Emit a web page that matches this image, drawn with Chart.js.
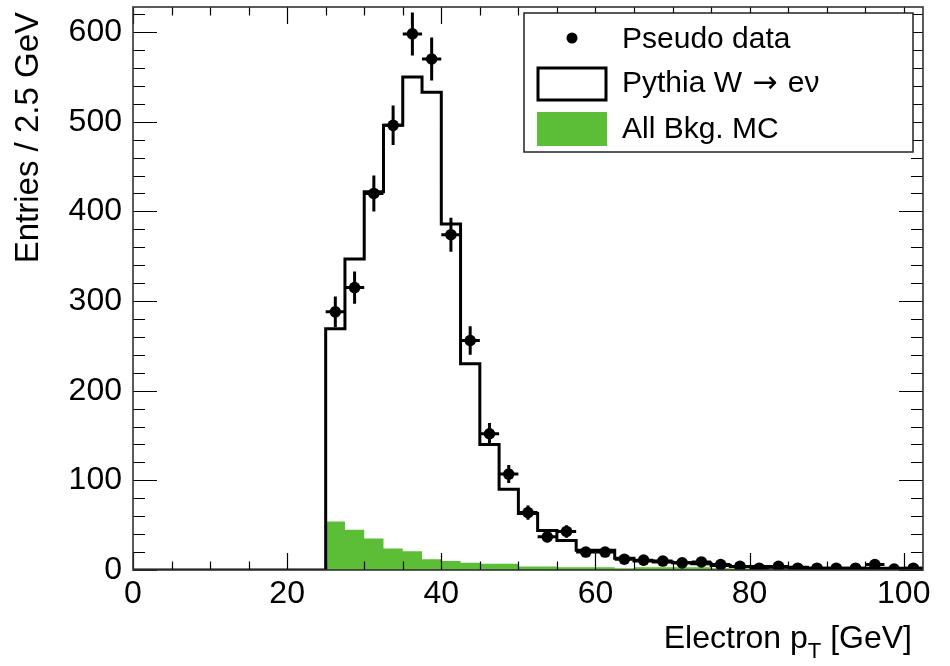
<!DOCTYPE html>
<html>
<head>
<meta charset="utf-8">
<script src="https://cdn.jsdelivr.net/npm/chart.js@4.4.1/dist/chart.umd.min.js"></script>
<style>
  html, body { margin: 0; padding: 0; background: #fff; }
</style>
</head>
<body>
<canvas id="chart" width="950" height="666"></canvas>
<script>
// electron pT histogram, 2.5 GeV bins
const binWidth = 2.5;
const binLow = [0, 2.5, 5, 7.5, 10, 12.5, 15, 17.5, 20, 22.5,
  25, 27.5, 30, 32.5, 35, 37.5, 40, 42.5, 45, 47.5,
  50, 52.5, 55, 57.5, 60, 62.5, 65, 67.5, 70, 72.5,
  75, 77.5, 80, 82.5, 85, 87.5, 90, 92.5, 95, 97.5, 100];

// background MC (green fill)
const bkgMC = [0, 0, 0, 0, 0, 0, 0, 0, 0, 0,
  54, 45, 35, 24, 21, 12, 10, 8, 7, 7,
  4, 4, 3, 3, 3, 2, 3, 3, 3, 3,
  2, 2, 2, 2, 2, 2, 2, 2, 2, 2, 2];

// W -> e nu stacked on top of the background (black outline)
const pythiaStack = [0, 0, 0, 0, 0, 0, 0, 0, 0, 0,
  269, 347, 422, 496, 550, 533, 386, 230, 140, 90,
  63, 44, 33, 22, 22, 13, 10, 9, 8, 7,
  5, 4, 4, 3, 3, 2, 2, 2, 2, 2, 2];

// pseudo data and its errors
const pseudoData = [null, null, null, null, null, null, null, null, null, null,
  288, 315, 420, 496, 598, 570, 374, 256, 152, 107,
  64, 37, 43, 20, 20, 12, 11, 10, 8, 9,
  6, 4, 2, 4, 2, 2, 2, 2, 6, 1, 2];
const dataErr = [null, null, null, null, null, null, null, null, null, null,
  17, 18, 20, 22, 24, 24, 19, 16, 12, 10,
  8, 6, 7, 4.5, 4.5, 3.5, 3.3, 3.2, 2.8, 3,
  2.4, 2, 1.4, 2, 1.4, 1.4, 1.4, 1.4, 2.4, 1, 1.4];

const xTickLabels = [0, 20, 40, 60, 80, 100];
const yTickLabels = [0, 100, 200, 300, 400, 500, 600];

const X_MAX = 102.5;
const Y_MAX = 628;
const FONT = "'Liberation Sans', Arial, Helvetica, sans-serif";
const GREEN = '#5cbd36';

const stepPoints = (vals) => {
  const pts = binLow.map((x, i) => ({ x: x, y: vals[i] }));
  pts.push({ x: binLow[binLow.length - 1] + binWidth, y: vals[vals.length - 1] });
  return pts;
};

const dataPoints = binLow
  .map((x, i) => pseudoData[i] == null ? null : { x: x + binWidth / 2, y: pseudoData[i], err: dataErr[i] })
  .filter(p => p);

// no extra room for half labels, the frame is placed by layout padding
const noPad = s => { s.paddingTop = 0; s.paddingBottom = 0; s.paddingLeft = 0; s.paddingRight = 0; };

const rootStyle = {
  id: 'rootStyle',
  beforeDatasetDraw(chart, args) {
    if (args.index !== 0) return;
    const { ctx, chartArea, scales: { x, y } } = chart;
    ctx.save();
    ctx.beginPath();
    ctx.rect(chartArea.left, chartArea.top, chartArea.right - chartArea.left, chartArea.bottom - chartArea.top);
    ctx.clip();
    ctx.strokeStyle = '#000';
    ctx.lineWidth = 3;
    dataPoints.forEach(p => {
      const px = x.getPixelForValue(p.x);
      const py = y.getPixelForValue(p.y);
      ctx.beginPath();
      ctx.moveTo(px, y.getPixelForValue(p.y - p.err));
      ctx.lineTo(px, y.getPixelForValue(p.y + p.err));
      ctx.moveTo(x.getPixelForValue(p.x - binWidth / 2), py);
      ctx.lineTo(x.getPixelForValue(p.x + binWidth / 2), py);
      ctx.stroke();
    });
    ctx.restore();
  },
  afterDraw(chart) {
    const { ctx, chartArea: a, scales: { x, y } } = chart;
    ctx.save();

    // inward ticks on all four sides
    ctx.strokeStyle = '#000';
    ctx.lineWidth = 1.2;
    ctx.beginPath();
    for (let v = 0; v <= X_MAX; v += 5) {
      const px = Math.round(x.getPixelForValue(v)) + 0.5;
      const len = v % 20 === 0 ? 17 : 8.5;
      ctx.moveTo(px, a.bottom); ctx.lineTo(px, a.bottom - len);
      ctx.moveTo(px, a.top); ctx.lineTo(px, a.top + len);
    }
    for (let v = 0; v <= Y_MAX; v += 20) {
      const py = Math.round(y.getPixelForValue(v)) + 0.5;
      const len = v % 100 === 0 ? 24 : 12;
      ctx.moveTo(a.left, py); ctx.lineTo(a.left + len, py);
      ctx.moveTo(a.right, py); ctx.lineTo(a.right - len, py);
    }
    ctx.stroke();

    // frame
    ctx.strokeStyle = '#333';
    ctx.lineWidth = 1.6;
    ctx.strokeRect(a.left, a.top, a.right - a.left, a.bottom - a.top);

    // legend
    const lx = 524, ly = 13, lw = 389, lh = 139;
    ctx.fillStyle = '#fff';
    ctx.fillRect(lx, ly, lw, lh);
    ctx.strokeStyle = '#222';
    ctx.lineWidth = 1.5;
    ctx.strokeRect(lx, ly, lw, lh);

    ctx.fillStyle = '#000';
    ctx.beginPath();
    ctx.arc(572, 38, 5.5, 0, Math.PI * 2);
    ctx.fill();

    ctx.fillStyle = '#fff';
    ctx.fillRect(538, 68, 68, 32);
    ctx.strokeStyle = '#000';
    ctx.lineWidth = 3;
    ctx.strokeRect(538, 68, 68, 32);

    ctx.fillStyle = GREEN;
    ctx.fillRect(537, 112, 70, 34);

    ctx.fillStyle = '#000';
    ctx.font = '30px ' + FONT;
    ctx.textAlign = 'left';
    ctx.textBaseline = 'alphabetic';
    ctx.fillText('Pseudo data', 622, 48);
    ctx.fillText('All Bkg. MC', 622, 138);

    // W -> e nu label, arrow taken from DejaVu for a longer glyph
    let tx = 622;
    ctx.fillText('Pythia W ', tx, 92);
    tx += ctx.measureText('Pythia W ').width + 2;
    ctx.font = "30px 'DejaVu Sans', sans-serif";
    ctx.fillText('\u2192', tx, 92);
    tx += ctx.measureText('\u2192').width + 2;
    ctx.font = '30px ' + FONT;
    ctx.fillText(' e\u03bd', tx, 92);

    // x axis title with subscript T
    const main = 'Electron p', sub = 'T', tail = ' [GeV]';
    ctx.font = '32px ' + FONT;
    const wMain = ctx.measureText(main).width;
    const wTail = ctx.measureText(tail).width;
    ctx.font = '22px ' + FONT;
    const wSub = ctx.measureText(sub).width;
    const xEnd = 912;
    const x0 = xEnd - wTail - wSub - wMain;
    ctx.font = '32px ' + FONT;
    ctx.fillText(main, x0, 648);
    ctx.fillText(tail, x0 + wMain + wSub, 648);
    ctx.font = '22px ' + FONT;
    ctx.fillText(sub, x0 + wMain, 658);

    // y axis title, aligned to the top
    ctx.translate(38, 12);
    ctx.rotate(-Math.PI / 2);
    ctx.font = '33px ' + FONT;
    ctx.textAlign = 'right';
    ctx.fillText('Entries / 2.5 GeV', 0, 0);

    ctx.restore();
  }
};

const chart = new Chart('chart', {
  data: {
    datasets: [{
      type: 'scatter',
      label: 'Pseudo data',
      data: dataPoints,
      order: 0,
      pointRadius: 5.8,
      pointHoverRadius: 5.8,
      pointBackgroundColor: '#000',
      pointBorderWidth: 0
    }, {
      type: 'line',
      label: 'Pythia W \u2192 e\u03bd',
      data: stepPoints(pythiaStack),
      order: 1,
      stepped: true,
      borderColor: '#000',
      borderWidth: 3,
      borderJoinStyle: 'miter',
      pointRadius: 0,
      fill: false
    }, {
      type: 'line',
      label: 'All Bkg. MC',
      data: stepPoints(bkgMC),
      order: 2,
      stepped: true,
      borderWidth: 0,
      borderColor: GREEN,
      backgroundColor: GREEN,
      pointRadius: 0,
      fill: 'origin'
    }]
  },
  options: {
    responsive: false,
    animation: false,
    events: [],
    layout: { padding: { top: 7, right: 27, left: 0, bottom: 0 } },
    plugins: { legend: { display: false }, tooltip: { enabled: false } },
    scales: {
      x: {
        type: 'linear',
        min: 0,
        max: X_MAX,
        grid: { display: false, drawTicks: false },
        border: { display: false },
        ticks: { stepSize: 20, autoSkip: false, maxRotation: 0, padding: 5, color: '#000', font: { family: FONT, size: 32 } },
        afterBuildTicks: s => { s.ticks = xTickLabels.map(v => ({ value: v })); },
        afterFit: s => { s.height = 96; noPad(s); }
      },
      y: {
        type: 'linear',
        min: 0,
        max: Y_MAX,
        grid: { display: false, drawTicks: false },
        border: { display: false },
        ticks: { stepSize: 100, autoSkip: false, padding: 11, color: '#000', font: { family: FONT, size: 32 } },
        afterBuildTicks: s => { s.ticks = yTickLabels.map(v => ({ value: v })); },
        afterFit: s => { s.width = 133; noPad(s); }
      }
    }
  },
  plugins: [rootStyle]
});
</script>
</body>
</html>
